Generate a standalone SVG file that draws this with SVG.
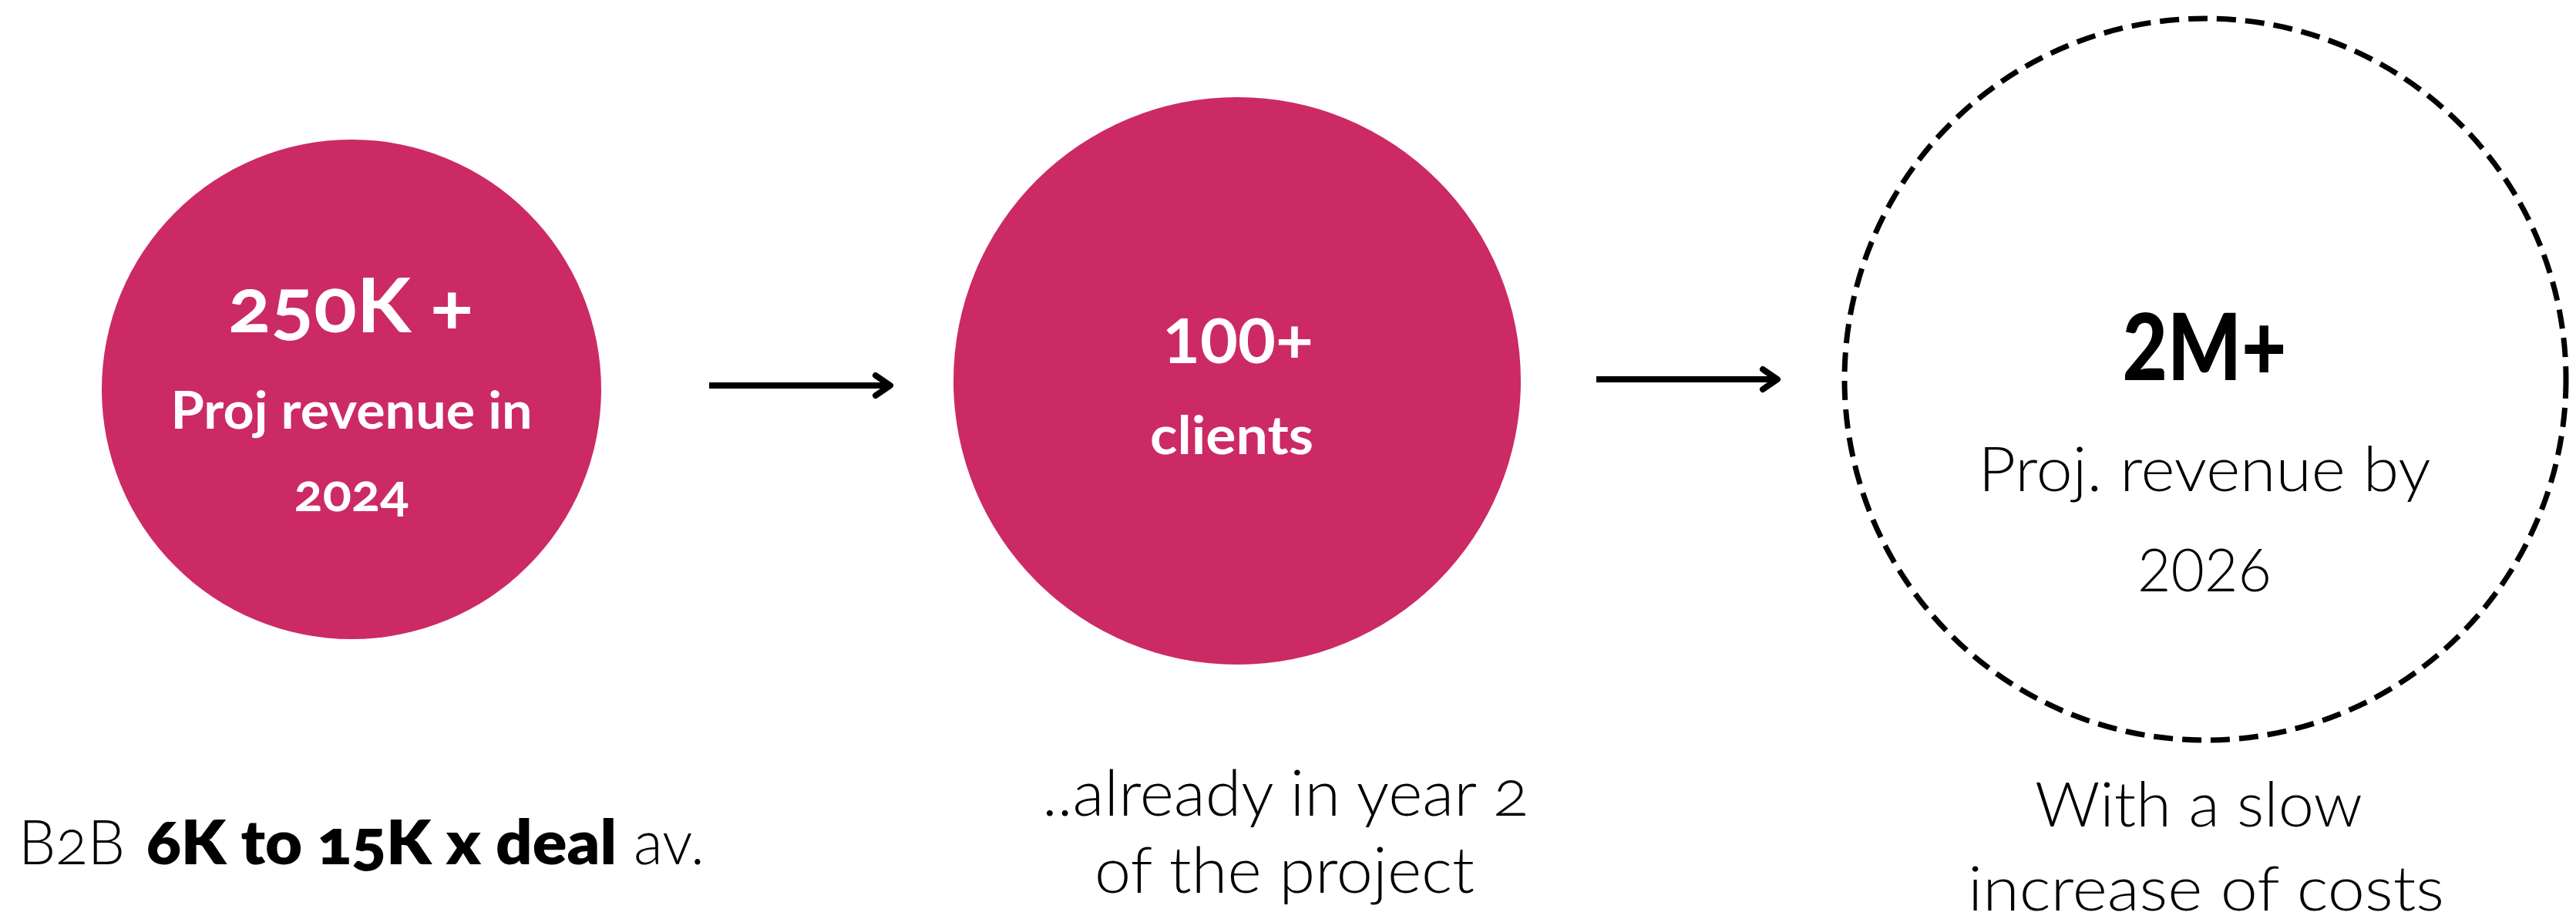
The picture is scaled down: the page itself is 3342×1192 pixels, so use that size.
<svg xmlns="http://www.w3.org/2000/svg" width="3342" height="1192" viewBox="0 0 3342 1192">
  <style>
    .bg { fill: #ffffff; }
    .disc { fill: #CC2A64; }
    .ring { fill: none; stroke: #000000; stroke-width: 7; stroke-dasharray: 25 12; }
    .conn { fill: none; stroke: #000000; stroke-width: 8; stroke-linecap: butt; }
    .t { font-family: "Lato", "Open Sans", "Liberation Sans", sans-serif; }
    .w { fill: #ffffff; font-weight: 700; text-anchor: middle; }
    .k { fill: #000000; }
    .light { font-weight: 300; }
    .heavy { font-weight: 800; }
    .black { font-weight: 900; }
    .mid { text-anchor: middle; }
    .osn { font-variant-numeric: oldstyle-nums; }
  </style>
  <defs>
    <marker id="chev" markerUnits="userSpaceOnUse" markerWidth="40" markerHeight="40" viewBox="-30 -20 40 40" refX="0" refY="0" orient="auto">
      <path d="M -19 -13 L 0 0 L -19 13" fill="none" stroke="#000000" stroke-width="8" stroke-linecap="round" stroke-linejoin="round"/>
    </marker>
  </defs>
  <rect class="bg" x="0" y="0" width="3342" height="1192"/>

  <g id="node-250k">
    <circle class="disc" cx="456" cy="505" r="324"/>
    <text class="t w osn" x="455" y="431" font-size="98" textLength="318" lengthAdjust="spacingAndGlyphs">250K +</text>
    <text class="t w" x="456" y="556" font-size="66" textLength="469" lengthAdjust="spacingAndGlyphs">Proj revenue in</text>
    <text class="t w osn" x="456" y="663" font-size="66" textLength="149" lengthAdjust="spacingAndGlyphs">2024</text>
  </g>

  <g id="node-100clients">
    <circle class="disc" cx="1605" cy="494" r="368"/>
    <text class="t w" x="1606" y="471" font-size="80" textLength="196" lengthAdjust="spacingAndGlyphs">100+</text>
    <text class="t w" x="1598" y="589" font-size="68" textLength="212" lengthAdjust="spacingAndGlyphs">clients</text>
  </g>

  <g id="node-2m">
    <circle class="ring" cx="2861" cy="492" r="468"/>
    <text class="t k black mid" x="2860" y="493" font-size="120" textLength="213" lengthAdjust="spacingAndGlyphs">2M+</text>
    <text class="t k light mid" x="2860" y="637" font-size="80" textLength="587" lengthAdjust="spacingAndGlyphs">Proj. revenue by</text>
    <text class="t k light mid" x="2860" y="767" font-size="76" textLength="174" lengthAdjust="spacingAndGlyphs">2026</text>
  </g>

  <g id="caption-deal">
    <text class="t k light osn" x="24" y="1121" font-size="80" textLength="138" lengthAdjust="spacingAndGlyphs">B2B</text>
    <text class="t k heavy osn" x="190" y="1121" font-size="80" textLength="610" lengthAdjust="spacingAndGlyphs">6K to 15K x deal</text>
    <text class="t k light" x="822" y="1121" font-size="80" textLength="92" lengthAdjust="spacingAndGlyphs">av.</text>
  </g>

  <g id="caption-year2">
    <text class="t k light osn" x="1352" y="1058" font-size="82" textLength="631" lengthAdjust="spacingAndGlyphs">..already in year 2</text>
    <text class="t k light" x="1420" y="1158" font-size="82" textLength="493" lengthAdjust="spacingAndGlyphs">of the project</text>
  </g>

  <g id="caption-costs">
    <text class="t k light" x="2640" y="1072" font-size="80" textLength="425" lengthAdjust="spacingAndGlyphs">With a slow</text>
    <text class="t k light" x="2553" y="1181" font-size="80" textLength="618" lengthAdjust="spacingAndGlyphs">increase of costs</text>
  </g>

  <g id="connectors">
    <line class="conn" x1="920" y1="500" x2="1155" y2="500" marker-end="url(#chev)"/>
    <line class="conn" x1="2071" y1="492" x2="2306" y2="492" marker-end="url(#chev)"/>
  </g>
</svg>
